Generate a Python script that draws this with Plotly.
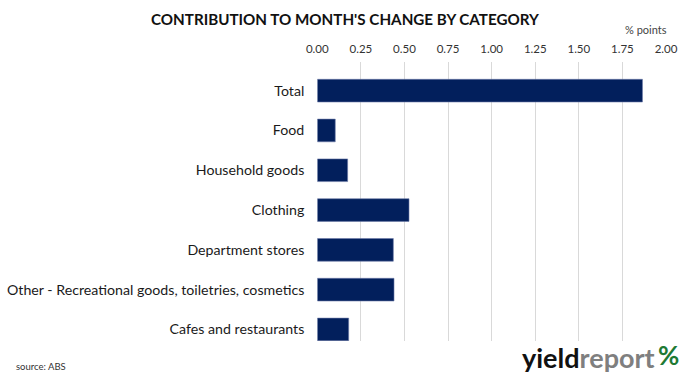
import plotly.graph_objects as go

categories = ["Total", "Food", "Household goods", "Clothing", "Department stores",
              "Other - Recreational goods, toiletries, cosmetics", "Cafes and restaurants"]
values = [1.865, 0.103, 0.174, 0.526, 0.436, 0.440, 0.180]
tick_vals = [0, 0.25, 0.5, 0.75, 1.0, 1.25, 1.5, 1.75, 2.0]
tick_text = ["0.00", "0.25", "0.50", "0.75", "1.00", "1.25", "1.50", "1.75", "2.00"]

W, H = 690, 378
FONT = "Lato"

fig = go.Figure(go.Bar(
    x=values, y=categories, orientation="h",
    marker=dict(color="#021F5C", line=dict(color="#6B7BA8", width=0.6)),
    width=0.57,
))

x0, x1 = 317.3, 666.0
y0, y1 = 62.0, 341.0

fig.update_layout(
    width=W, height=H,
    margin=dict(l=0, r=0, t=0, b=0, autoexpand=False),
    paper_bgcolor="white", plot_bgcolor="white",
    showlegend=False,
    font=dict(family=FONT, color="#333333"),
    xaxis=dict(
        domain=[x0 / W, x1 / W], range=[0, 2], side="top",
        tickvals=tick_vals, ticktext=tick_text,
        showgrid=True, gridcolor="#D9D9D9", gridwidth=1,
        zeroline=False, showline=False, ticks="", automargin=False,
        tickfont=dict(family=FONT, size=11.5, color="#333333"),
        ticklabelstandoff=6,
    ),
    yaxis=dict(
        domain=[1 - y1 / H, 1 - y0 / H],
        type="category", range=[6.29, -0.72], automargin=False,
        showgrid=False, zeroline=False, showline=False, ticks="",
        tickfont=dict(family=FONT, size=14.2, color="#1A1A1A"),
        ticklabelstandoff=12,
    ),
    annotations=[
        dict(text="<b>CONTRIBUTION TO MONTH'S CHANGE BY CATEGORY</b>", x=345 / W, y=1 - 19 / H,
             xref="paper", yref="paper", xanchor="center", yanchor="middle", showarrow=False,
             font=dict(family="Lato", size=15.2, color="#111111")),
        dict(text="% points", x=646 / W, y=1 - 29 / H, xref="paper", yref="paper",
             xanchor="center", yanchor="middle", showarrow=False,
             font=dict(family=FONT, size=11, color="#444444")),
        dict(text="source: ABS", x=14 / W, y=1 - 366 / H, xref="paper", yref="paper",
             xanchor="left", yanchor="middle", showarrow=False,
             font=dict(family=FONT, size=9.5, color="#333333")),
        dict(text="<b>yield</b><b><span style='color:#7F7F7F'>report</span></b>",
             x=520 / W, y=1 - 357 / H, xref="paper", yref="paper",
             xanchor="left", yanchor="middle", showarrow=False,
             font=dict(family="Lato", size=27, color="#111111")),
        dict(text="<b>%</b>",
             x=668 / W, y=1 - 355 / H, xref="paper", yref="paper",
             xanchor="center", yanchor="middle", showarrow=False,
             font=dict(family="Lato", size=26, color="#1E7A34")),
    ],
)

fig.write_html("out.html", config={"displayModeBar": False},
               post_script="document.body.style.margin='0';document.body.style.overflow='hidden';")
